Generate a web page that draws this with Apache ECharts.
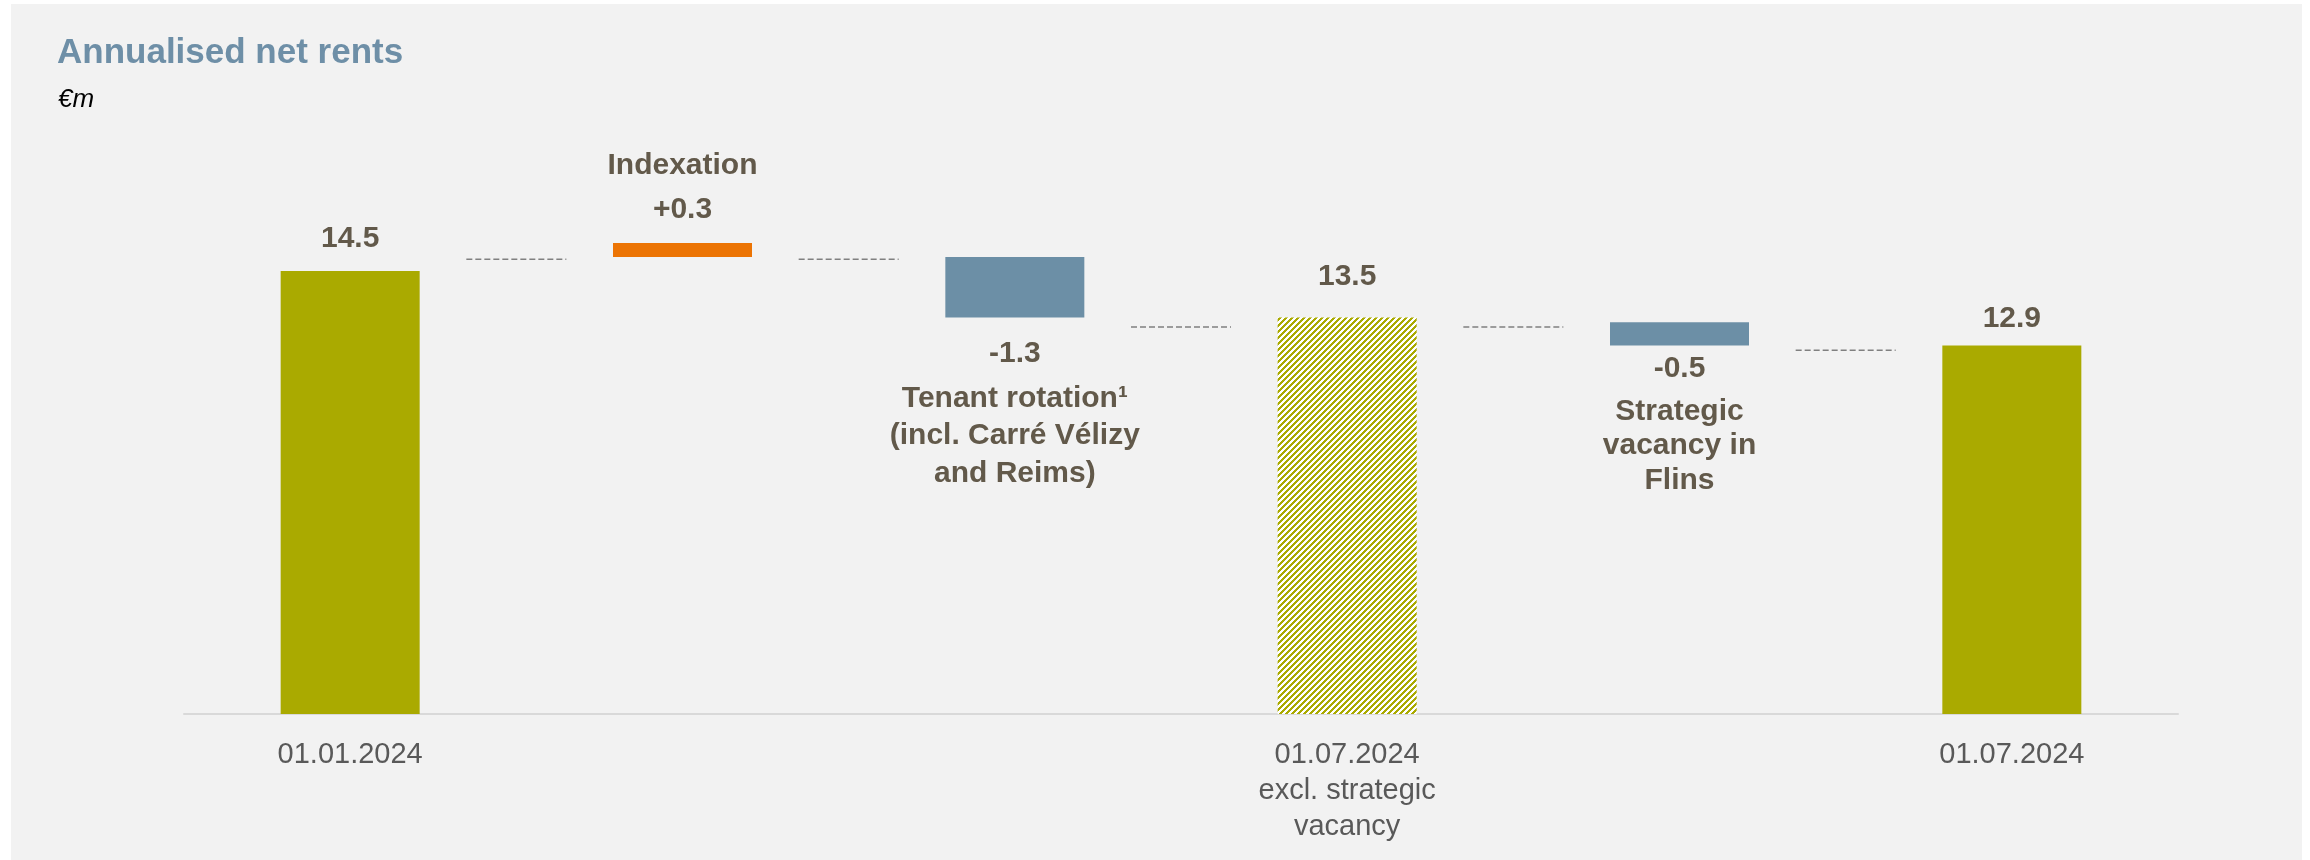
<!DOCTYPE html>
<html>
<head>
<meta charset="utf-8">
<script src="https://cdn.jsdelivr.net/npm/echarts@6/dist/echarts.min.js"></script>
<style>
  html, body { margin: 0; padding: 0; background: #ffffff; }
  #bg { position: absolute; left: 11px; top: 4px; width: 2291px; height: 856px; background: #F2F2F2; }
  #chart { position: absolute; left: 0; top: 0; width: 2310px; height: 860px; }
</style>
</head>
<body>
<div id="bg"></div>
<div id="chart"></div>
<script>
// ---- Data ----
const categories = ['01.01.2024', 'Indexation', 'Tenant rotation', '01.07.2024 excl. strategic vacancy', 'Strategic vacancy in Flins', '01.07.2024'];
const axisLabels = ['01.01.2024', '', '', '01.07.2024\nexcl. strategic\nvacancy', '', '01.07.2024'];
const barLow = [0, 14.8, 13.5, 0, 12.9, 0];
const barHigh = [14.5, 15.1, 14.8, 13.5, 13.4, 12.9];
const valueLabels = ['14.5', '+0.3', '-1.3', '13.5', '-0.5', '12.9'];
const stepNames = [[], ['Indexation'], ['Tenant rotation\u00B9', '(incl. Carr\u00E9 V\u00E9lizy', 'and Reims)'], [], ['Strategic', 'vacancy in', 'Flins'], []];
const connectorLevels = [14.75, 14.75, 13.3, 13.3, 12.8];

// ---- Styles ----
const OLIVE = '#AAAA00', ORANGE = '#EC7404', BLUE = '#6C8FA6', TXT = '#62594A', AXTXT = '#595959';
const FONT = '"Liberation Sans", Arial, sans-serif';

function hatch() {
  const P = 6;
  const c = document.createElement('canvas');
  c.width = P; c.height = P;
  const ctx = c.getContext('2d');
  ctx.fillStyle = '#ffffff'; ctx.fillRect(0, 0, P, P);
  ctx.fillStyle = OLIVE;
  for (let x = 0; x < P; x++) for (let y = 0; y < P; y++) {
    if (((x + y) % P) < 3) ctx.fillRect(x, y, 1, 1);
  }
  return { image: c, repeat: 'repeat' };
}

const barColors = [OLIVE, ORANGE, BLUE, hatch(), BLUE, OLIVE];
// label placement per bar: [position, distance, valueLineHeight, nameLineHeight]
const labelLayout = [
  ['top', 17, 30, 30],
  ['top', 11, 44, 44],
  ['bottom', 10, 52, 37.5],
  ['top', 26, 30, 30],
  ['bottom', -3, 51.5, 34.5],
  ['top', 12, 30, 30]
];

const visibleData = categories.map((c, i) => {
  const lay = labelLayout[i];
  const names = stepNames[i];
  let fmt;
  if (names.length === 0) fmt = '{v|' + valueLabels[i] + '}';
  else if (lay[0] === 'top') fmt = names.map(n => '{d|' + n + '}').join('\n') + '\n{v|' + valueLabels[i] + '}';
  else fmt = '{v|' + valueLabels[i] + '}\n' + names.map(n => '{d|' + n + '}').join('\n');
  return {
    value: +(barHigh[i] - barLow[i]).toFixed(4),
    itemStyle: { color: barColors[i] },
    label: {
      show: true,
      position: lay[0],
      distance: lay[1],
      formatter: fmt,
      align: 'center',
      rich: {
        v: { fontFamily: FONT, fontSize: 30, fontWeight: 'bold', color: TXT, lineHeight: lay[2], align: 'center' },
        d: { fontFamily: FONT, fontSize: 30, fontWeight: 'bold', color: TXT, lineHeight: lay[3], align: 'center' }
      }
    }
  };
});

const chart = echarts.init(document.getElementById('chart'), null, { renderer: 'canvas' });
chart.setOption({
  animation: false,
  backgroundColor: 'transparent',
  title: [
    { text: 'Annualised net rents', left: 52, top: 31,
      textStyle: { fontFamily: FONT, fontSize: 35, fontWeight: 'bold', color: '#6E8FA7', lineHeight: 35 } },
    { text: '\u20ACm', left: 53, top: 82,
      textStyle: { fontFamily: FONT, fontSize: 26, fontWeight: 'normal', fontStyle: 'italic', color: '#000000', lineHeight: 26 } }
  ],
  grid: { left: 184, right: 132, top: 201, bottom: 146, containLabel: false },
  xAxis: {
    type: 'category',
    data: categories,
    axisLine: { show: true, lineStyle: { color: '#D9D9D9', width: 2 } },
    axisTick: { show: false },
    axisLabel: {
      interval: 0, margin: 23,
      formatter: (v, i) => axisLabels[i],
      fontFamily: FONT, fontSize: 29, color: AXTXT, lineHeight: 36, align: 'center'
    }
  },
  yAxis: { type: 'value', min: 5, max: 16, show: false, splitLine: { show: false } },
  series: [
    { type: 'bar', stack: 'wf', barWidth: 139, silent: true,
      itemStyle: { color: 'transparent' }, data: barLow },
    { type: 'bar', stack: 'wf', barWidth: 139, clip: true, data: visibleData },
    { type: 'custom', silent: true, z: 1,
      data: connectorLevels.map((v, i) => [i, v]),
      renderItem: function (params, api) {
        const i = api.value(0), v = api.value(1);
        const p0 = api.coord([i, v]);
        const p1 = api.coord([i + 1, v]);
        const mid = (p0[0] + p1[0]) / 2;
        return {
          type: 'line',
          shape: { x1: mid - 50, y1: p0[1], x2: mid + 50, y2: p0[1] },
          style: { stroke: '#808080', lineWidth: 1.5, lineDash: [6, 3] }
        };
      }
    }
  ]
});
</script>
</body>
</html>
